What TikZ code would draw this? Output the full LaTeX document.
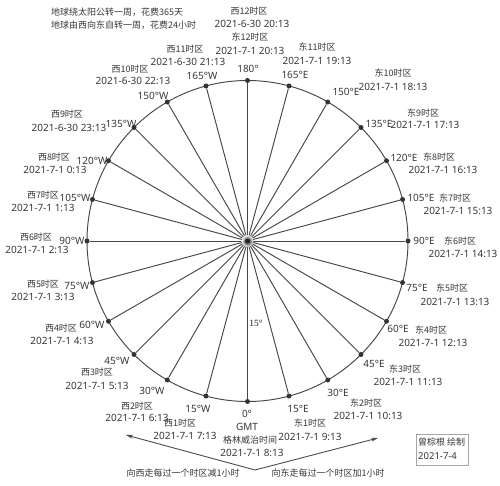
\documentclass[tikz,border=0pt]{standalone}
\usepackage{fontspec}
\usetikzlibrary{arrows.meta}
\setmainfont{Noto Sans}
\newfontfamily\cjk{Noto Sans CJK SC}
\newfontfamily\serifx{Liberation Serif}
\begin{document}
\begin{tikzpicture}[x=1pt,y=-1pt,
  tx/.style={inner sep=0pt,text=black!78},
  lat/.style={tx,font=\fontsize{10}{12}\selectfont},
  zh/.style={tx,font=\cjk\fontsize{9}{11}\selectfont},
  dot/.style={circle,fill=black!80,inner sep=0pt,minimum size=5pt},
  ln/.style={draw=black!72,line width=0.95pt},
  arr/.style={draw=black!70,line width=0.9pt,-{Stealth[length=7pt,width=4pt]}}]
\useasboundingbox (0,0) rectangle (500,486);
\fill[white] (0,0) rectangle (500,486);
\draw[ln] (247.5,241) circle[radius=160.5];
\coordinate (c) at (247.5,241);
\foreach \i in {0,...,23}{
  \node[dot] (p\i) at ({247.5+160.5*sin(15*\i)},{241+160.5*cos(15*\i)}) {};
  \draw[ln] (c) -- (p\i);
}
\shade[inner color=black!90,outer color=white,opacity=0.9] (c) circle[radius=6];
\node[circle,fill=black!85,inner sep=0pt,minimum size=5pt] (cd) at (c) {};
% top-left notes
\node[zh,anchor=west] (n1) at (51,12) {地球绕太阳公转一周，花费365天};
\node[zh,anchor=west] (n2) at (51,25) {地球由西向东自转一周，花费24小时};
% top
\node[zh] (w12) at (249,11) {西12时区};
\node[lat] (w12d) at (252,24) {2021-6-30 20:13};
\node[zh] (e12) at (250,37) {东12时区};
\node[lat] (e12d) at (250,51) {2021-7-1 20:13};
\node[lat] (g180) at (248,69) {180°};
% west
\node[zh] (w11) at (185,49) {西11时区};
\node[lat] (w11d) at (188,62) {2021-6-30 21:13};
\node[lat] (g165w) at (202,76) {165°W};
\node[zh] (w10) at (130,69) {西10时区};
\node[lat] (w10d) at (133,81) {2021-6-30 22:13};
\node[lat] (g150w) at (153,96) {150°W};
\node[zh] (w9) at (67,114) {西9时区};
\node[lat] (w9d) at (69,128) {2021-6-30 23:13};
\node[lat] (g135w) at (121,124) {135°W};
\node[zh] (w8) at (54,157) {西8时区};
\node[lat] (w8d) at (55,170) {2021-7-1 0:13};
\node[lat] (g120w) at (92,161) {120°W};
\node[zh] (w7) at (43,195) {西7时区};
\node[lat] (w7d) at (43,208) {2021-7-1 1:13};
\node[lat] (g105w) at (75,198) {105°W};
\node[zh] (w6) at (36,237) {西6时区};
\node[lat] (w6d) at (37,250) {2021-7-1 2:13};
\node[lat] (g90w) at (72,241) {90°W};
\node[zh] (w5) at (43,284) {西5时区};
\node[lat] (w5d) at (43,297) {2021-7-1 3:13};
\node[lat] (g75w) at (77,286) {75°W};
\node[zh] (w4) at (61,328) {西4时区};
\node[lat] (w4d) at (62,341) {2021-7-1 4:13};
\node[lat] (g60w) at (92,325) {60°W};
\node[zh] (w3) at (97,372) {西3时区};
\node[lat] (w3d) at (97,386) {2021-7-1 5:13};
\node[lat] (g45w) at (117,361) {45°W};
\node[zh] (w2) at (137,406) {西2时区};
\node[lat] (w2d) at (137,418) {2021-7-1 6:13};
\node[lat] (g30w) at (152,391) {30°W};
\node[zh] (w1) at (180,423) {西1时区};
\node[lat] (w1d) at (185,436) {2021-7-1 7:13};
\node[lat] (g15w) at (198,409) {15°W};
% bottom
\node[lat] (g0) at (247,414) {0°};
\node[lat] (gmt) at (247,427) {GMT};
\node[zh] (gz) at (250,440) {格林威治时间};
\node[lat] (gzd) at (252,453) {2021-7-1 8:13};
% east
\node[lat] (g15e) at (298,409) {15°E};
\node[zh] (e1) at (310,423) {东1时区};
\node[lat] (e1d) at (310,437) {2021-7-1 9:13};
\node[lat] (g30e) at (338,393) {30°E};
\node[zh] (e2) at (366,403) {东2时区};
\node[lat] (e2d) at (368,416) {2021-7-1 10:13};
\node[lat] (g45e) at (374,364) {45°E};
\node[zh] (e3) at (405,369) {东3时区};
\node[lat] (e3d) at (408,382) {2021-7-1 11:13};
\node[lat] (g60e) at (398,329) {60°E};
\node[zh] (e4) at (431,330) {东4时区};
\node[lat] (e4d) at (433,343) {2021-7-1 12:13};
\node[lat] (g75e) at (417,288) {75°E};
\node[zh] (e5) at (452,288) {东5时区};
\node[lat] (e5d) at (455,302) {2021-7-1 13:13};
\node[lat] (g90e) at (424,241) {90°E};
\node[zh] (e6) at (460,241) {东6时区};
\node[lat] (e6d) at (463,254) {2021-7-1 14:13};
\node[lat] (g105e) at (421,198) {105°E};
\node[zh] (e7) at (455,198) {东7时区};
\node[lat] (e7d) at (458,211) {2021-7-1 15:13};
\node[lat] (g120e) at (404,158) {120°E};
\node[zh] (e8) at (439,157) {东8时区};
\node[lat] (e8d) at (443,170) {2021-7-1 16:13};
\node[lat] (g135e) at (379,124) {135°E};
\node[zh] (e9) at (423,113) {东9时区};
\node[lat] (e9d) at (425,125) {2021-7-1 17:13};
\node[lat] (g150e) at (346,92) {150°E};
\node[zh] (e10) at (393,73) {东10时区};
\node[lat] (e10d) at (393,87) {2021-7-1 18:13};
\node[lat] (g165e) at (295,75) {165°E};
\node[zh] (e11) at (317,47) {东11时区};
\node[lat] (e11d) at (317,61) {2021-7-1 19:13};
% angle
\node[tx,text=black!90,font=\serifx\fontsize{9.5}{11}\selectfont] (ang) at (256,323) {15°};
% arrows
\coordinate (v) at (255,470);
\coordinate (al) at (126,435);
\coordinate (ar) at (378,438);
\draw[arr] (v) -- (al);
\draw[arr] (v) -- (ar);
\node[zh] (tw) at (183,473) {向西走每过一个时区减1小时};
\node[zh] (te) at (328,473) {向东走每过一个时区加1小时};
% signature box
\draw[draw=black!35,line width=0.8pt] (416,434) rectangle (468,465);
\node[zh,anchor=west] (s1) at (418,442) {曾棕根 绘制};
\node[lat,anchor=west,font=\fontsize{9.5}{11}\selectfont] (s2) at (418,456) {2021-7-4};
\end{tikzpicture}
\end{document}
